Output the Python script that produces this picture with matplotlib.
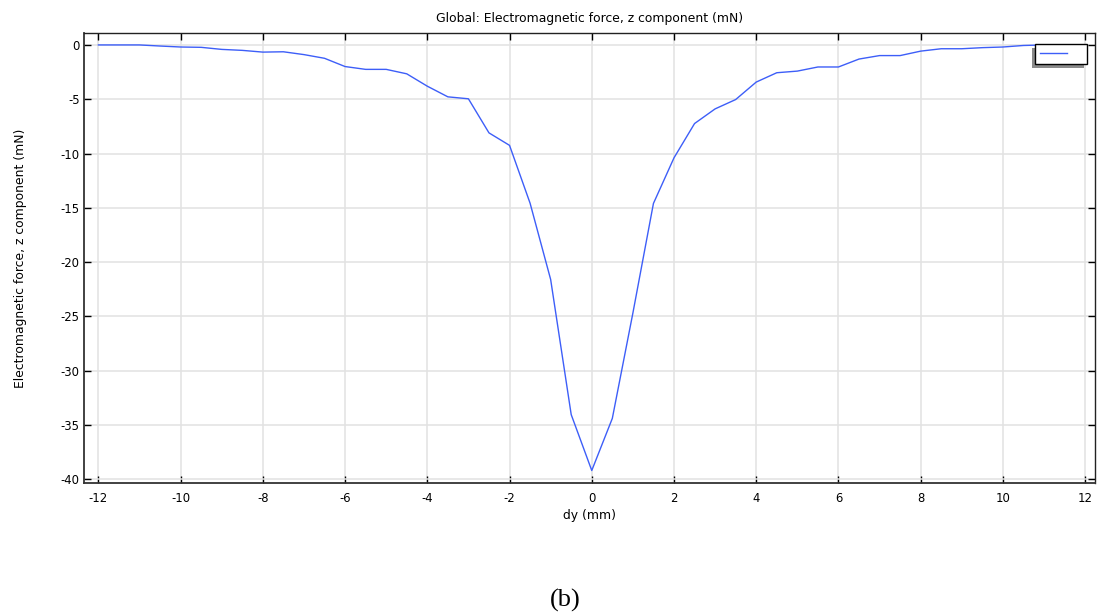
import numpy as np
import matplotlib
matplotlib.use("Agg")
import matplotlib.pyplot as plt
from matplotlib.lines import Line2D
from matplotlib.patches import Rectangle

# Displacement dy (mm) and z component of the electromagnetic force (mN)
dy_mm = [-12.0, -11.5, -11.0, -10.5, -10.0, -9.5, -9.0, -8.5, -8.0, -7.5,
         -7.0, -6.5, -6.0, -5.5, -5.0, -4.5, -4.0, -3.5, -3.0, -2.5,
         -2.0, -1.5, -1.0, -0.5, 0.0, 0.5, 1.0, 1.5, 2.0, 2.5,
         3.0, 3.5, 4.0, 4.5, 5.0, 5.5, 6.0, 6.5, 7.0, 7.5,
         8.0, 8.5, 9.0, 9.5, 10.0, 10.5, 11.0, 11.5, 12.0]
force_z_mN = [0.0, 0.0, 0.0, -0.1, -0.19, -0.22, -0.41, -0.5, -0.66, -0.63,
              -0.89, -1.23, -1.99, -2.25, -2.25, -2.66, -3.8, -4.78, -4.96, -8.1,
              -9.25, -14.58, -21.6, -34.05, -39.2, -34.4, -24.7, -14.6, -10.4, -7.24,
              -5.89, -5.03, -3.42, -2.56, -2.41, -2.03, -2.03, -1.3, -0.98, -0.98,
              -0.57, -0.35, -0.35, -0.25, -0.19, -0.05, 0.0, 0.0, 0.0]

x_ticks = [-12, -10, -8, -6, -4, -2, 0, 2, 4, 6, 8, 10, 12]
y_ticks = [0, -5, -10, -15, -20, -25, -30, -35, -40]

title_text = "Global: Electromagnetic force, z component (mN)"
x_label = "dy (mm)"
y_label = "Electromagnetic force, z component (mN)"
caption = "(b)"

LINE_COLOR = "#3d5ef8"

W, H = 1102, 614
fig = plt.figure(figsize=(W / 100, H / 100), dpi=100)
fig.patch.set_facecolor("white")

left, right, top, bottom = 84, 1095, 33, 483
ax = fig.add_axes([left / W, 1 - bottom / H, (right - left) / W, (bottom - top) / H])

ax.plot(dy_mm, force_z_mN, color=LINE_COLOR, linewidth=1.0, zorder=3)

ax.set_xlim(-12.35, 12.24)
ax.set_ylim(-40.35, 1.1)
ax.set_xticks(x_ticks)
ax.set_yticks(y_ticks)
ax.set_xticklabels([str(t) for t in x_ticks])
ax.set_yticklabels([str(t) for t in y_ticks])

ax.grid(True, color="#e2e2e2", linewidth=1.1, zorder=0)
ax.set_axisbelow(True)

ax.tick_params(axis="both", which="both", direction="in", length=5, width=1,
               top=True, right=True, labelsize=8.4, colors="black")
ax.tick_params(axis="x", pad=6.5)
ax.tick_params(axis="y", pad=3)
for side in ["top", "right"]:
    ax.spines[side].set_linewidth(1.0)
    ax.spines[side].set_color("#222222")
for side in ["left", "bottom"]:
    ax.spines[side].set_linewidth(1.3)
    ax.spines[side].set_color("#333333")

ax.set_title(title_text, fontsize=8.9, pad=8)
ax.set_xlabel(x_label, fontsize=8.9, labelpad=3)
ax.set_ylabel(y_label, fontsize=8.9, labelpad=24)

handle = Line2D([0], [0], color=LINE_COLOR, linewidth=1.0)
leg = ax.legend([handle], [""], loc="upper right", bbox_to_anchor=(0.992, 0.975),
                frameon=True, fancybox=False, shadow=False, framealpha=1.0,
                handlelength=2.5, handletextpad=1.3, borderpad=0.45,
                borderaxespad=0.0, fontsize=8)
leg.get_frame().set_edgecolor("black")
leg.get_frame().set_facecolor("white")
leg.get_frame().set_linewidth(1.0)
leg.set_zorder(6)

# Drop shadow offset down and to the left of the legend box
fig.canvas.draw()
bb = leg.get_frame().get_window_extent(fig.canvas.get_renderer())
inv = ax.transAxes.inverted()
(x0, y0) = inv.transform((bb.x0 - 3, bb.y0 - 4))
(x1, y1) = inv.transform((bb.x1 - 3, bb.y1 - 4))
shadow = Rectangle((x0, y0), x1 - x0, y1 - y0, transform=ax.transAxes,
                   facecolor="#8a8a8a", edgecolor="none", zorder=5, clip_on=False)
ax.add_patch(shadow)

fig.text(565 / W, 1 - 600 / H, caption, ha="center", va="center",
         fontsize=19, family="Liberation Serif")

fig.savefig("out.png", dpi=100)
